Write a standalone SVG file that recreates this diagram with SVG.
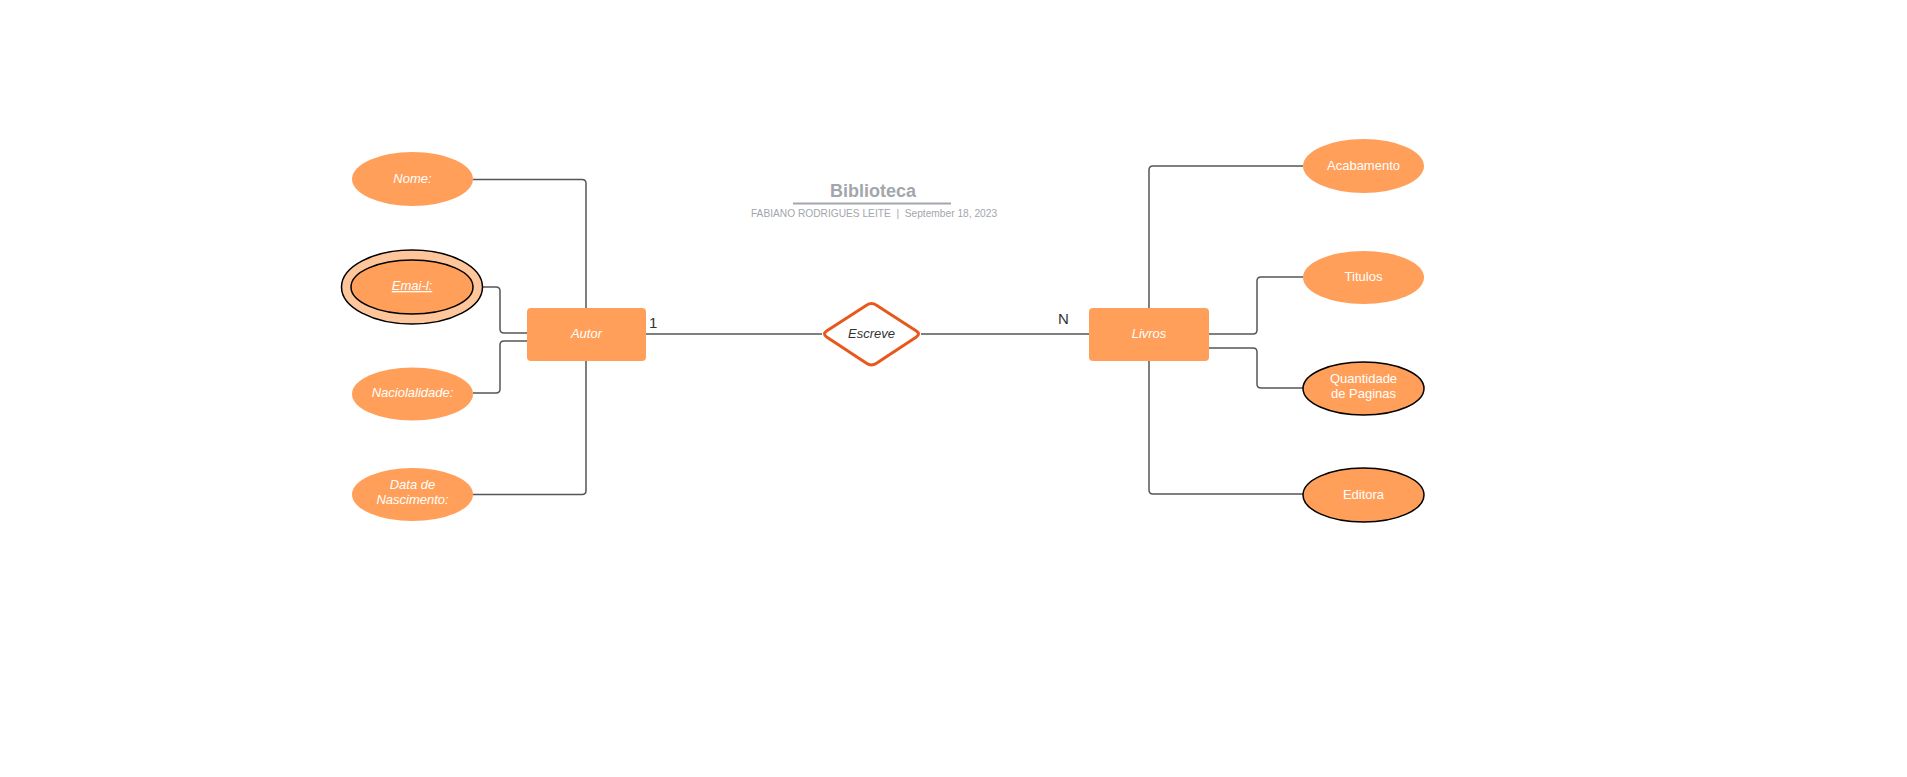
<svg xmlns="http://www.w3.org/2000/svg" width="1907" height="777" viewBox="0 0 1907 777">
<style>
.attr{fill:#FF9F5A;}
.ent{fill:#FF9F5A;}
.lbl{font-family:"Liberation Sans",Arial,sans-serif;font-size:13px;fill:#ffffff;text-anchor:middle;}
.it{font-style:italic;}
.conn{fill:none;stroke:#555555;stroke-width:1.5;}
.bk{stroke:#000000;stroke-width:1.5;}
</style>
<rect width="1907" height="777" fill="#ffffff"/>
<g id="title">
<text x="873" y="197" font-family="Liberation Sans,Arial,sans-serif" font-size="18" font-weight="bold" fill="#a3a6ad" text-anchor="middle">Biblioteca</text>
<line x1="793" y1="203.5" x2="951" y2="203.5" stroke="#a3a6ad" stroke-width="2"/>
<text x="874" y="217" font-family="Liberation Sans,Arial,sans-serif" font-size="10.2" fill="#a3a6ad" text-anchor="middle" xml:space="preserve" style="white-space:pre">FABIANO RODRIGUES LEITE  |  September 18, 2023</text>
</g>
<g id="connectors">
<path class="conn" d="M473 179.5 H582 Q586 179.5 586 183.5 V308"/>
<path class="conn" d="M473 287 H496 Q500 287 500 291 V329 Q500 333 504 333 H527"/>
<path class="conn" d="M527 341 H504 Q500 341 500 345 V389 Q500 393 496 393 H473"/>
<path class="conn" d="M473 494.5 H582 Q586 494.5 586 490.5 V361"/>
<path class="conn" d="M646 334 H822"/>
<path class="conn" d="M921 334 H1089"/>
<path class="conn" d="M1303 166 H1153 Q1149 166 1149 170 V308"/>
<path class="conn" d="M1209 334 H1253 Q1257 334 1257 330 V281 Q1257 277 1261 277 H1303"/>
<path class="conn" d="M1209 348 H1253 Q1257 348 1257 352 V384 Q1257 388 1261 388 H1303"/>
<path class="conn" d="M1149 361 V490 Q1149 494 1153 494 H1303"/>
<text x="649" y="328" font-family="Liberation Sans,Arial,sans-serif" font-size="15" fill="#333333">1</text>
<text x="1058" y="324" font-family="Liberation Sans,Arial,sans-serif" font-size="15" fill="#333333">N</text>
</g>
<g id="nome">
<ellipse class="attr" cx="412.5" cy="179" rx="60.5" ry="27"/>
<text class="lbl it" x="412.5" y="182.5">Nome:</text>
</g>
<g id="email">
<ellipse cx="412" cy="287" rx="70.5" ry="37" fill="#FFC59B" stroke="#000" stroke-width="1.5"/>
<ellipse cx="412" cy="287" rx="61" ry="27" fill="#FF9F5A" stroke="#000" stroke-width="1.5"/>
<text class="lbl it" x="412" y="290" text-decoration="underline">Emai-l:</text>
</g>
<g id="nacionalidade">
<ellipse class="attr" cx="412.5" cy="394" rx="60.5" ry="26.5"/>
<text class="lbl it" x="412.5" y="397">Naciolalidade:</text>
</g>
<g id="nascimento">
<ellipse class="attr" cx="412.5" cy="494.5" rx="60.5" ry="26.5"/>
<text class="lbl it" x="412.5" y="489">Data de</text>
<text class="lbl it" x="412.5" y="503.5">Nascimento:</text>
</g>
<g id="autor">
<rect class="ent" x="527" y="308" width="119" height="53" rx="4"/>
<text class="lbl it" x="586.5" y="337.5">Autor</text>
</g>
<g id="escreve">
<path d="M866.5 305.2 Q871.5 302 876.5 305.2 L916 330.8 Q921 334 916 337.2 L876.5 363.3 Q871.5 366.5 866.5 363.3 L827 337.2 Q822 334 827 330.8 Z" fill="#ffffff" stroke="#E8581C" stroke-width="3" stroke-linejoin="round"/>
<text x="871.5" y="337.5" font-family="Liberation Sans,Arial,sans-serif" font-size="13" font-style="italic" fill="#333333" text-anchor="middle">Escreve</text>
</g>
<g id="livros">
<rect class="ent" x="1089" y="308" width="120" height="53" rx="4"/>
<text class="lbl it" x="1149" y="337.5">Livros</text>
</g>
<g id="acabamento">
<ellipse class="attr" cx="1363.5" cy="166" rx="60.5" ry="27"/>
<text class="lbl" x="1363.5" y="169.5">Acabamento</text>
</g>
<g id="titulos">
<ellipse class="attr" cx="1363.5" cy="277.5" rx="60.5" ry="26.5"/>
<text class="lbl" x="1363.5" y="281">Titulos</text>
</g>
<g id="quantidade">
<ellipse class="attr bk" cx="1363.5" cy="388.5" rx="60.5" ry="26.5"/>
<text class="lbl" x="1363.5" y="383">Quantidade</text>
<text class="lbl" x="1363.5" y="397.5">de Paginas</text>
</g>
<g id="editora">
<ellipse class="attr bk" cx="1363.5" cy="495" rx="60.5" ry="27"/>
<text class="lbl" x="1363.5" y="498.5">Editora</text>
</g>
</svg>
